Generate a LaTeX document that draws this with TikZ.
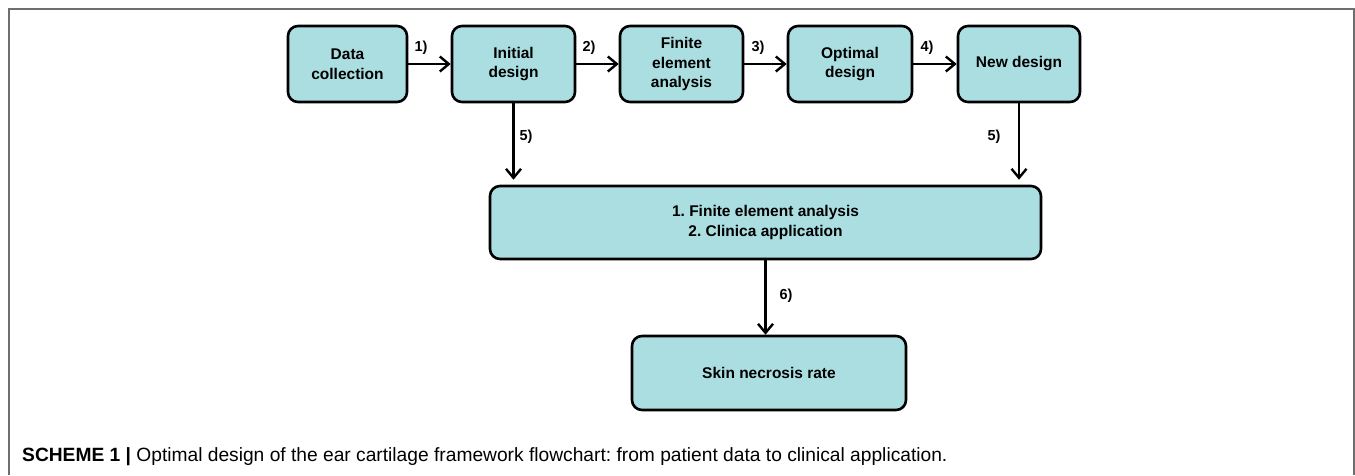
\documentclass[tikz,border=0pt]{standalone}
\usepackage{fontspec}
\setmainfont{Liberation Sans}
\usetikzlibrary{arrows.meta}
\frenchspacing
\definecolor{boxfill}{RGB}{170,222,225}
\definecolor{framegray}{RGB}{110,110,110}
\tikzset{
  flowbox/.style={draw=black, line width=2.6pt, fill=boxfill, rounded corners=10pt,
    align=center, font=\fontsize{15.5}{19.5}\selectfont\bfseries, inner sep=0pt},
  flowarrow/.style={line width=2.4pt, -{Straight Barb[length=9pt,width=15pt,line width=2.4pt]}},
  steplabel/.style={font=\fontsize{14.5}{16}\selectfont\bfseries, inner sep=0pt}
}
\begin{document}
\begin{tikzpicture}[x=1pt,y=-1pt]
\useasboundingbox (0,0) rectangle (1355,475);
\draw[framegray, line width=1.3pt] (9,475) -- (9,9) -- (1354,9) -- (1354,475);
% top row
\node[flowbox, minimum width=119pt, minimum height=76pt] (dc) at (347.5,64) {Data\\collection};
\node[flowbox, minimum width=123pt, minimum height=76pt] (id) at (513.5,64) {Initial\\design};
\node[flowbox, minimum width=123pt, minimum height=76pt] (fe) at (681.5,64) {Finite\\element\\analysis};
\node[flowbox, minimum width=124pt, minimum height=76pt] (od) at (850,64) {Optimal\\design};
\node[flowbox, minimum width=122pt, minimum height=76pt] (nd) at (1019,64) {New design};
% big box
\node[flowbox, minimum width=551pt, minimum height=73pt] (big) at (765.5,222.5)
  {1. Finite element analysis\\[1pt]2. Clinica application};
% skin
\node[flowbox, minimum width=274pt, minimum height=74pt] (sk) at (769,373) {Skin necrosis rate};
% arrows
\draw[flowarrow] (dc) -- (id);
\draw[flowarrow] (id) -- (fe);
\draw[flowarrow] (fe) -- (od);
\draw[flowarrow] (od) -- (nd);
\coordinate (l5) at (id.south |- big.north);
\coordinate (r5) at (nd.south |- big.north);
\draw[flowarrow] (id.south) -- ([yshift=5pt]l5);
\draw[flowarrow] (nd.south) -- ([yshift=5pt]r5);
\coordinate (b6) at (big.south |- sk.north);
\draw[flowarrow] (big.south) -- (b6);
% labels
\node[steplabel] (t1) at (421,48) {1)};
\node[steplabel] (t2) at (589,48) {2)};
\node[steplabel] (t3) at (758,48) {3)};
\node[steplabel] (t4) at (927,48) {4)};
\node[steplabel] (t5a) at (526,137) {5)};
\node[steplabel] (t5b) at (994,137) {5)};
\node[steplabel] (t6) at (786,296) {6)};
% caption
\node[anchor=west, inner sep=0pt, font=\fontsize{19.2}{22}\selectfont] (cap) at (22,457)
  {\textbf{SCHEME 1 |} Optimal design of the ear cartilage framework flowchart: from patient data to clinical application.};
\end{tikzpicture}
\end{document}
